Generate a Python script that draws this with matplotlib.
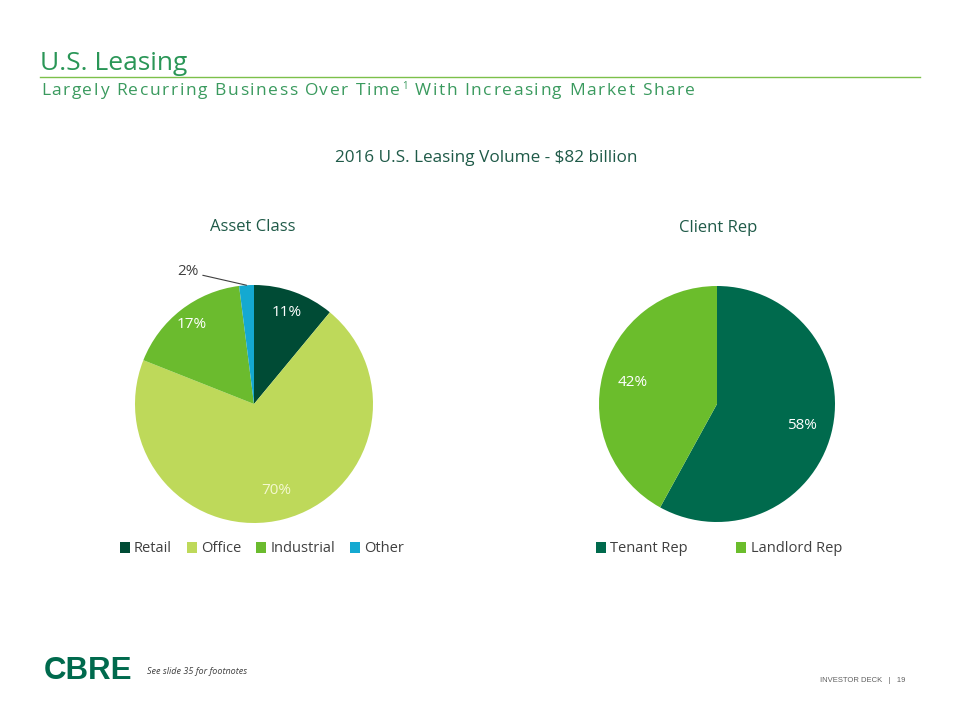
import numpy as np
import matplotlib.pyplot as plt
from matplotlib.lines import Line2D

# data
asset_labels = ['Retail', 'Office', 'Industrial', 'Other']
asset_values = [11, 70, 17, 2]
asset_colors = ['#004b35', '#bed95a', '#6bbb2e', '#14a9d1']

client_labels = ['Tenant Rep', 'Landlord Rep']
client_values = [58, 42]
client_colors = ['#006a4d', '#6bbd2c']

W, H = 960, 720
dark = '#1f5a48'
font = ['Open Sans', 'DejaVu Sans']
plt.rcParams['font.family'] = font

fig = plt.figure(figsize=(9.6, 7.2), dpi=100)
renderer = fig.canvas.get_renderer()


def px_axes(cx, cy, r):
    # axes box in figure fraction from a pixel centre and radius
    return fig.add_axes([(cx - r) / W, (H - cy - r) / H, 2 * r / W, 2 * r / H])


def label_pos(w, dist):
    ang = np.deg2rad((w.theta1 + w.theta2) / 2)
    return dist * np.cos(ang), dist * np.sin(ang)


def text_w(s, size):
    t = fig.text(0, 0, s, fontsize=size)
    w = t.get_window_extent(renderer).width
    t.remove()
    return w


def char_w(ch, size):
    return text_w('x' + ch + 'x', size) - text_w('xx', size)


def tracked_text(x0, y, parts, width, **kw):
    # letter-spaced text: parts are (string, fontsize, raise_px)
    chars = [(ch, s, r) for txt, s, r in parts for ch in txt]
    widths = [char_w(ch, s) for ch, s, r in chars]
    track = (width - sum(widths)) / (len(chars) - 1)
    x = x0
    for (ch, s, r), w in zip(chars, widths):
        if ch != ' ':
            fig.text(x / W, 1 - (y - r) / H, ch, fontsize=s, va='baseline', ha='left', **kw)
        x += w + track


# header
fig.text(40 / W, 1 - 64 / H, 'U.S. Leasing', fontsize=19, color='#2a9657',
         va='center', ha='left')
tracked_text(41, 95, [('Largely Recurring Business Over Time', 12.5, 0), ('1', 7, 6),
                      (' With Increasing Market Share', 12.5, 0)], 654, color='#3a9a5e')
fig.add_artist(Line2D([40 / W, 920 / W], [1 - 77 / H, 1 - 77 / H], color='#7cc04a', lw=1))

fig.text(486 / W, 1 - 158 / H, '2016 U.S. Leasing Volume - $82 billion', fontsize=12.3,
         color=dark, ha='center', va='center')

# asset class pie
ax1 = px_axes(254, 404, 119)
wedges1, _ = ax1.pie(asset_values, colors=asset_colors, startangle=90, counterclock=False,
                     radius=1, wedgeprops=dict(linewidth=0))
ax1.set_xlim(-1, 1)
ax1.set_ylim(-1, 1)
ax1.set_aspect('equal')
ax1.axis('off')
dists = [0.82, 0.75, 0.85]
for w, v, d in zip(wedges1[:3], asset_values[:3], dists):
    x, y = label_pos(w, d)
    c = '#f4f8d0' if v == 70 else 'white'
    ax1.text(x, y, f'{v}%', color=c, fontsize=11, ha='center', va='center')
# small slice labelled outside with a leader line
w = wedges1[3]
ang = np.deg2rad((w.theta1 + w.theta2) / 2)
ax1.annotate(f'{asset_values[3]}%', xy=(np.cos(ang), np.sin(ang)), xytext=(-0.555, 1.11),
             fontsize=11, color='#404040', ha='center', va='center',
             arrowprops=dict(arrowstyle='-', color='#404040', lw=0.8, shrinkA=1, shrinkB=0),
             annotation_clip=False)
fig.text(253 / W, 1 - 227 / H, 'Asset Class', fontsize=12, color=dark, ha='center', va='center')

# client rep pie
ax2 = px_axes(717, 404, 118)
wedges2, _ = ax2.pie(client_values, colors=client_colors, startangle=90, counterclock=False,
                     radius=1, wedgeprops=dict(linewidth=0))
ax2.set_xlim(-1, 1)
ax2.set_ylim(-1, 1)
ax2.set_aspect('equal')
ax2.axis('off')
for w, v in zip(wedges2, client_values):
    x, y = label_pos(w, 0.74)
    ax2.text(x, y, f'{v}%', color='white', fontsize=11, ha='center', va='center')
fig.text(718 / W, 1 - 228 / H, 'Client Rep', fontsize=12, color=dark, ha='center', va='center')

# legends
fig.legend(wedges1, asset_labels, loc='center', bbox_to_anchor=(262 / W, 1 - 549 / H),
           ncol=4, frameon=False, fontsize=10.5, handlelength=0.7, handleheight=0.7,
           handletextpad=0.3, columnspacing=1.0, labelcolor='#404040')
fig.legend(wedges2, client_labels, loc='center', bbox_to_anchor=(719 / W, 1 - 549 / H),
           ncol=2, frameon=False, fontsize=10.5, handlelength=0.7, handleheight=0.7,
           handletextpad=0.3, columnspacing=3.3, labelcolor='#404040')

# footer
fig.text(44 / W, 1 - 671 / H, 'CBRE', fontsize=22.5, fontweight='heavy', color='#006a4d',
         family=['Liberation Sans', 'DejaVu Sans'], ha='left', va='center')
fig.text(147 / W, 1 - 672 / H, 'See slide 35 for footnotes', fontsize=6.5, style='italic',
         color='#404040', ha='left', va='center')
fig.text(905 / W, 1 - 681 / H, 'INVESTOR DECK   |   19', fontsize=5.5, color='#606060',
         family=['Liberation Sans', 'DejaVu Sans'], ha='right', va='center')

fig.savefig('out.png', dpi=100)
